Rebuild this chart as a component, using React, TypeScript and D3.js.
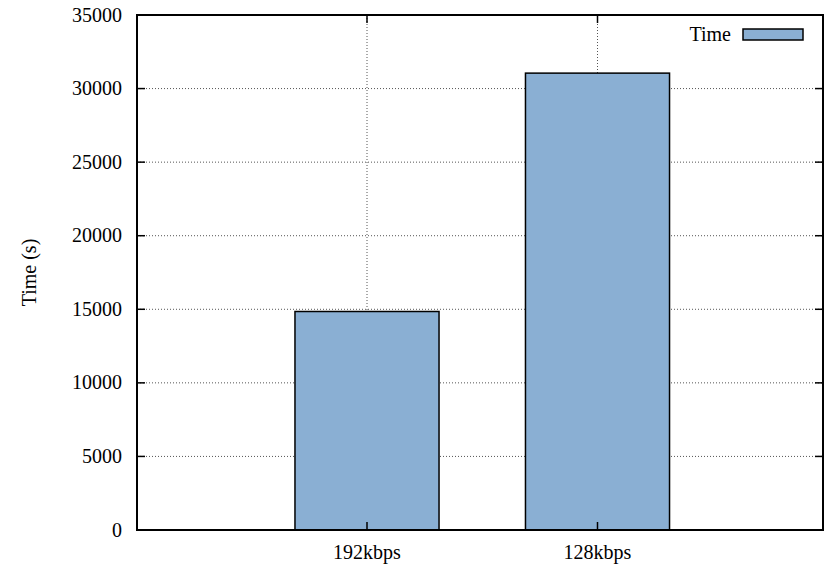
import React from "react";
import * as d3 from "d3";

const categories = ["192kbps", "128kbps"];
const timeValues = [14850, 31050];
const yTicks = [0, 5000, 10000, 15000, 20000, 25000, 30000, 35000];
const seriesName = "Time";
const yLabel = "Time (s)";

const W = 824;
const H = 569;
const frame = { left: 137, right: 823, top: 15, bottom: 530 };
const fontStyle = { fontFamily: "Times, 'Liberation Serif', 'Nimbus Roman', 'DejaVu Serif', serif", fontSize: "20px" };
const barFill = "#8aafd3";

export default function App() {
  // category index -> pixel (categories sit at 0 and 1)
  const x = d3.scaleLinear().domain([0, 1]).range([367, 597.5]);
  const y = d3.scaleLinear().domain([0, 35000]).range([frame.bottom, frame.top]);
  const barW = 0.625;
  const x0 = frame.left;
  const x1 = frame.right;
  const y0 = y(0);
  const yTop = y(35000);

  return (
    <svg
      width={W}
      height={H}
      style={{ position: "absolute", left: 0, top: 0, background: "#fff" }}
    >
      {/* horizontal grid */}
      {yTicks.slice(1, -1).map((t) => (
        <line key={"g" + t} x1={x0} x2={x1} y1={y(t)} y2={y(t)} stroke="#555" strokeWidth={1} strokeDasharray="1,2" />
      ))}
      {/* vertical grid at categories */}
      {categories.map((c, i) => (
        <line key={"v" + c} x1={x(i)} x2={x(i)} y1={yTop} y2={y0} stroke="#555" strokeWidth={1} strokeDasharray="1,2" />
      ))}
      {/* bars */}
      {timeValues.map((v, i) => (
        <rect
          key={"b" + i}
          x={x(i - barW / 2)}
          y={y(v)}
          width={x(i + barW / 2) - x(i - barW / 2)}
          height={y0 - y(v)}
          fill={barFill}
          stroke="#000"
          strokeWidth={1.5}
        />
      ))}
      {/* y ticks and labels */}
      {yTicks.map((t) => (
        <g key={"t" + t}>
          <line x1={x0} x2={x0 + 8} y1={y(t)} y2={y(t)} stroke="#000" strokeWidth={1.5} />
          <line x1={x1} x2={x1 - 8} y1={y(t)} y2={y(t)} stroke="#000" strokeWidth={1.5} />
          <text x={122} y={y(t)} dy="0.33em" textAnchor="end" style={fontStyle} fill="#000">
            {t}
          </text>
        </g>
      ))}
      {/* x ticks and labels */}
      {categories.map((c, i) => (
        <g key={"x" + c}>
          <line x1={x(i)} x2={x(i)} y1={y0} y2={y0 - 8} stroke="#000" strokeWidth={1.5} />
          <line x1={x(i)} x2={x(i)} y1={yTop} y2={yTop + 8} stroke="#000" strokeWidth={1.5} />
          <text x={x(i)} y={558.5} textAnchor="middle" style={fontStyle} fill="#000">
            {c}
          </text>
        </g>
      ))}
      {/* frame */}
      <rect x={x0} y={yTop} width={x1 - x0} height={y0 - yTop} fill="none" stroke="#000" strokeWidth={2} />
      {/* legend */}
      <text x={731} y={34.5} dy="0.33em" textAnchor="end" style={fontStyle} fill="#000">
        {seriesName}
      </text>
      <rect x={743} y={29} width={60} height={11} fill={barFill} stroke="#000" strokeWidth={1.5} />
      {/* y axis title */}
      <text
        transform={`translate(36,${(yTop + y0) / 2}) rotate(-90)`}
        textAnchor="middle"
        style={fontStyle}
        fill="#000"
      >
        {yLabel}
      </text>
    </svg>
  );
}
